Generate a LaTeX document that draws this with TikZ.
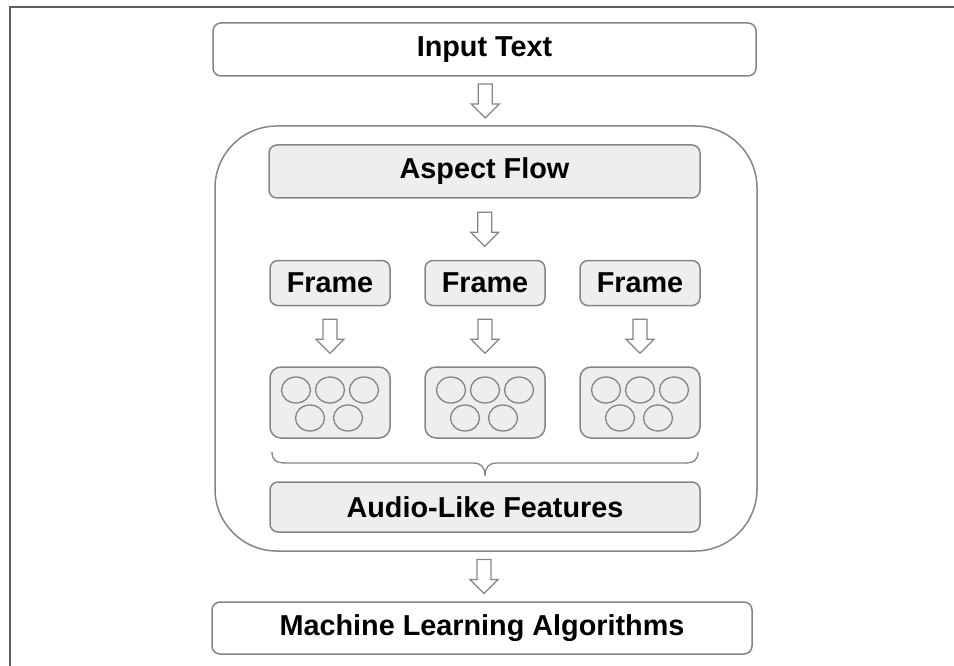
\documentclass[tikz,border=0pt]{standalone}
\usepackage{fontspec}
\setmainfont{Liberation Sans}
\usetikzlibrary{calc}
\definecolor{edgegray}{HTML}{858585}
\definecolor{boxfill}{HTML}{EEEEEE}
\definecolor{framegray}{HTML}{5E5E5E}
\tikzset{
  lbl/.style={font=\fontsize{28.8}{33}\selectfont\bfseries, text=black},
  whitebox/.style={draw=edgegray, line width=1.5pt, fill=white, rounded corners=8pt, inner sep=0pt, lbl},
  graybox/.style={draw=edgegray, line width=1.5pt, fill=boxfill, rounded corners=8pt, inner sep=0pt, lbl},
  featbox/.style={draw=edgegray, line width=1.5pt, fill=boxfill, rounded corners=11pt, inner sep=0pt, minimum width=120pt, minimum height=71pt},
  bubble/.style={draw=edgegray, line width=1.3pt, ellipse, minimum width=29pt, minimum height=26pt, inner sep=0pt},
  arrowline/.style={draw=edgegray, line width=1.3pt, fill=white, line join=miter},
  downarr/.pic={\path[arrowline] (-7,-17) -- (7,-17) -- (7,3) -- (14,3) -- (0,17) -- (-14,3) -- (-7,3) -- cycle;},
  bubbles/.pic={
    \node[bubble] at (-34,-12.5) {};
    \node[bubble] at (0,-12.5) {};
    \node[bubble] at (34,-12.5) {};
    \node[bubble] at (-20,15.5) {};
    \node[bubble] at (18,15.5) {};
  }
}
\usetikzlibrary{shapes.geometric}
\begin{document}
\begin{tikzpicture}[x=1pt,y=-1pt]
\useasboundingbox (0,0) rectangle (954,666);
% page frame
\draw[framegray, line width=2pt] (10,666) -- (10,7) -- (954,7);
% container
\node[draw=edgegray, line width=1.5pt, rounded corners=62pt, minimum width=542pt, minimum height=425pt, inner sep=0pt] (cont) at (486,338.5) {};
% nodes
\node[whitebox, minimum width=543pt, minimum height=53pt] (input) at (484.5,49.5) {Input Text};
\node[graybox, minimum width=431pt, minimum height=53pt] (aspect) at (484.5,171.5) {Aspect Flow};
\foreach \i/\x in {1/330,2/485,3/640}{
  \node[graybox, minimum width=120pt, minimum height=45pt] (frame\i) at (\x,283) {Frame};
  \node[featbox] (feat\i) at (\x,402.5) {};
  \pic at (feat\i.center) {bubbles};
  \pic at ($(frame\i.south)!0.5!(feat\i.north)$) {downarr};
}
\node[graybox, minimum width=430pt, minimum height=50pt] (audio) at (485,507) {Audio-Like Features};
\node[whitebox, minimum width=540pt, minimum height=52pt] (ml) at (482,628) {Machine Learning Algorithms};
% arrows
\pic at ($(input.south)!0.5!(cont.north)$) {downarr};
\pic at ($(aspect.south)!0.5!(frame2.north)$) {downarr};
\pic at ($(cont.south)!0.5!(ml.north)$) {downarr};
% brace
\coordinate (bl) at (272,452);
\coordinate (br) at (698,452);
\coordinate (bt) at (485,476);
\draw[edgegray, line width=1.3pt] (bl) .. controls (272,460) and (276,463) .. (286,463) -- (473,463) .. controls (481,463) and (485,467) .. (bt)
  .. controls (485,467) and (489,463) .. (497,463) -- (684,463) .. controls (694,463) and (698,460) .. (br);
\end{tikzpicture}
\end{document}
